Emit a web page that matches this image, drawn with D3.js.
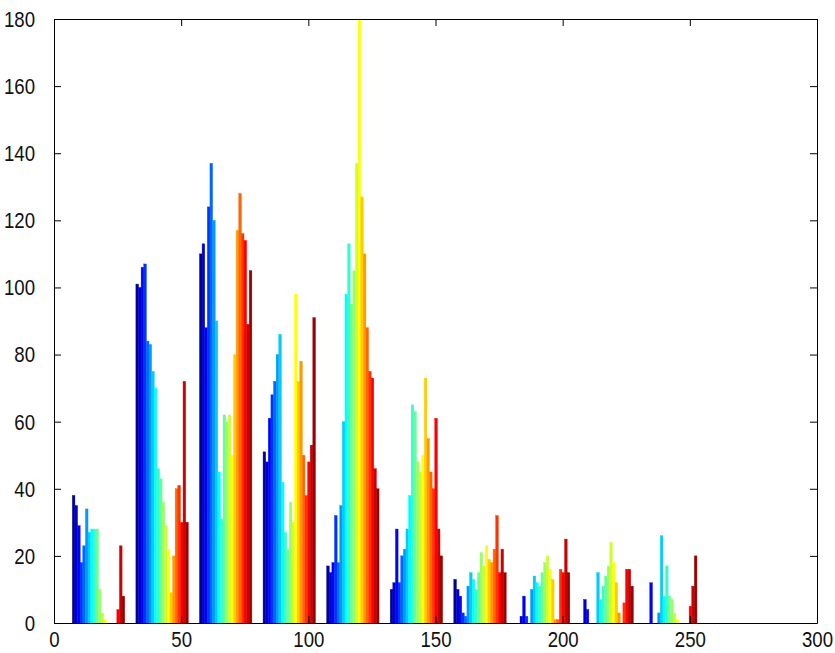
<!DOCTYPE html>
<html>
<head>
<meta charset="UTF-8">
<style>
  body { margin: 0; background: #fff; }
  svg { display: block; }
  .tick text { font-family: "Liberation Sans", Arial, sans-serif; font-size: 23px; fill: #111; }
</style>
</head>
<body>
<svg></svg>
<script src="https://d3js.org/d3.v7.min.js"></script>
<script>
// group centres on the x axis
const groupCenters = [17.5, 42.5, 67.5, 92.5, 117.5, 142.5, 167.5, 192.5, 217.5, 242.5];

// 20 series per group
const group1  = [38, 35, 29, 18, 23, 34, 27, 28, 28, 28, 10, 3, 1, 0, 0, 0, 0, 4, 23, 8];
const group2  = [101, 100, 106, 107, 84, 83, 75, 70, 46, 43, 36, 29, 22, 9, 20, 40, 41, 30, 72, 30];
const group3  = [110, 113, 88, 124, 137, 120, 90, 45, 31, 62, 60, 62, 50, 80, 117, 128, 116, 114, 89, 105];
const group4  = [51, 48, 61, 68, 72, 80, 86, 42, 27, 22, 36, 30, 98, 72, 78, 50, 38, 48, 53, 91];
const group5  = [17, 15, 18, 32, 18, 35, 60, 98, 113, 95, 105, 137, 180, 127, 110, 88, 75, 73, 46, 40];
const group6  = [10, 12, 28, 12, 20, 22, 28, 38, 65, 63, 48, 45, 50, 73, 55, 45, 40, 61, 28, 20];
const group7  = [13, 10, 8, 3, 2, 11, 15, 13, 10, 15, 21, 17, 23, 19, 18, 22, 32, 15, 22, 15];
const group8  = [0, 2, 8, 2, 0, 10, 14, 12, 11, 15, 18, 20, 16, 13, 1, 1, 16, 15, 25, 15];
const group9  = [0, 7, 4, 0, 0, 0, 15, 7, 11, 14, 17, 24, 18, 12, 3, 0, 6, 16, 16, 11];
const group10 = [0, 0, 12, 0, 0, 3, 26, 8, 17, 8, 7, 3, 1, 0, 0, 0, 0, 5, 11, 20];

const groups = [group1, group2, group3, group4, group5, group6, group7, group8, group9, group10];

const xTicks = [0, 50, 100, 150, 200, 250, 300];
const yTicks = [0, 20, 40, 60, 80, 100, 120, 140, 160, 180];

const width = 835, height = 653;
const margin = {top: 19, right: 18, bottom: 30, left: 54};

const svg = d3.select("svg").attr("width", width).attr("height", height);

const x = d3.scaleLinear().domain([0, 300]).range([margin.left, width - margin.right]);
const y = d3.scaleLinear().domain([0, 180]).range([height - margin.bottom, margin.top]);

// MATLAB jet(m) colormap
function jet(m) {
  const n = Math.ceil(m / 4);
  const u = [];
  for (let i = 1; i <= n; i++) u.push(i / n);
  for (let i = 1; i < n; i++) u.push(1);
  for (let i = n; i >= 1; i--) u.push(i / n);
  const off = Math.ceil(n / 2) - (m % 4 === 1 ? 1 : 0);
  const J = d3.range(m).map(() => [0, 0, 0]);
  u.forEach((v, i) => {
    const g = off + i + 1, r = g + n, b = g - n;
    if (g >= 1 && g <= m) J[g - 1][1] = v;
    if (r >= 1 && r <= m) J[r - 1][0] = v;
    if (b >= 1 && b <= m) J[b - 1][2] = v;
  });
  return J.map(c => d3.rgb(c[0] * 255, c[1] * 255, c[2] * 255).toString());
}

const nSeries = group1.length;
const colors = jet(nSeries);
const groupWidth = 20.6;
const bw = groupWidth / nSeries;

const bars = [];
groups.forEach((vals, gi) => {
  vals.forEach((v, si) => {
    bars.push({x0: groupCenters[gi] - groupWidth / 2 + si * bw, value: v, s: si});
  });
});

svg.append("g")
  .selectAll("rect")
  .data(bars.filter(d => d.value > 0))
  .enter()
  .append("rect")
  .attr("x", d => x(d.x0))
  .attr("width", x(bw) - x(0))
  .attr("y", d => y(d.value))
  .attr("height", d => y(0) - y(d.value))
  .style("fill", d => colors[d.s])
  .style("stroke", d => colors[d.s])
  .style("stroke-width", 0.4);

// axes, ticks pointing inward on all four sides
const tl = 7;
const squeeze = 0.81; // narrow tick labels like the original
svg.append("g")
  .attr("transform", "translate(0," + (height - margin.bottom) + ")")
  .call(d3.axisBottom(x).tickValues(xTicks).tickSizeInner(-tl).tickSizeOuter(0).tickPadding(8))
  .selectAll("text").attr("transform", "scale(" + squeeze + ",1)");
svg.append("g")
  .attr("transform", "translate(0," + margin.top + ")")
  .call(d3.axisTop(x).tickValues(xTicks).tickSizeInner(-tl).tickSizeOuter(0).tickFormat(""));
svg.append("g")
  .attr("transform", "translate(" + margin.left + ",0)")
  .call(d3.axisLeft(y).tickValues(yTicks).tickSizeInner(-tl).tickSizeOuter(0).tickPadding(19 / squeeze))
  .selectAll("text").attr("transform", "scale(" + squeeze + ",1)");
svg.append("g")
  .attr("transform", "translate(" + (width - margin.right) + ",0)")
  .call(d3.axisRight(y).tickValues(yTicks).tickSizeInner(-tl).tickSizeOuter(0).tickFormat(""));

svg.selectAll(".domain, .tick line").style("stroke", "#000").style("stroke-width", 1);
</script>
</body>
</html>
